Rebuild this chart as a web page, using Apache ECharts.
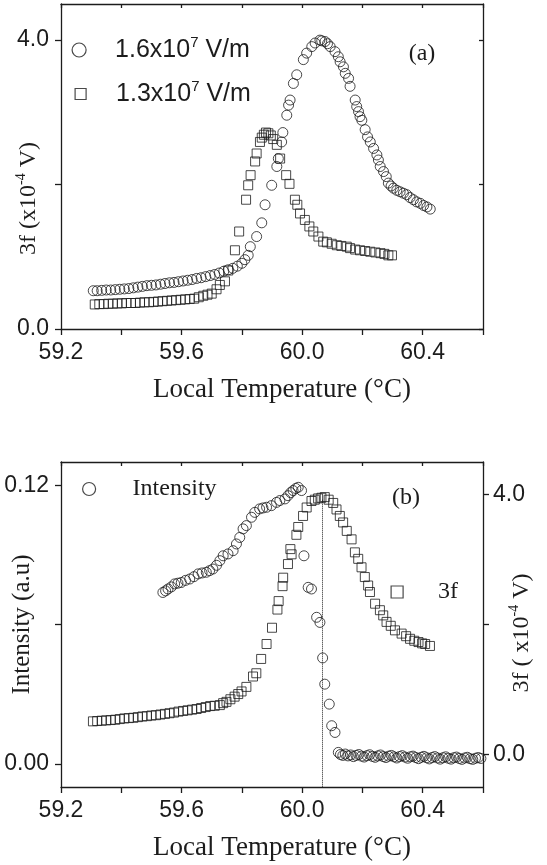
<!DOCTYPE html>
<html><head><meta charset="utf-8">
<script src="https://cdn.jsdelivr.net/npm/echarts@6/dist/echarts.min.js"></script>
<style>html,body{margin:0;padding:0;background:#fff}#c{width:547px;height:865px}</style>
</head><body><div id="c"></div>
<script>
// ---------- data ----------
const xTickValues = [59.2, 59.4, 59.6, 59.8, 60.0, 60.2, 60.4, 60.6];
const xLabelValues = [59.2, 59.6, 60.0, 60.4];
const aYTickValues = [0, 2, 4];
const aYLabelValues = [0, 4];
const bLeftTickValues = [0, 0.06, 0.12];
const bLeftLabelValues = [0, 0.12];
const bRightTickValues = [0, 2, 4];
const bRightLabelValues = [0, 4];

const seriesNamesA = ['1.6x10^7 V/m', '1.3x10^7 V/m'];
const seriesNamesB = ['Intensity', '3f'];

// panel (a): 3f signal, field 1.6x10^7 V/m  [T (°C), 3f (x10^-4 V)]
const field16 = [[59.307,0.53],[59.32,0.53],[59.335,0.535],[59.35,0.54],[59.365,0.54],[59.38,0.545],[59.395,0.55],[59.41,0.555],[59.425,0.56],[59.44,0.57],[59.455,0.58],[59.47,0.59],[59.485,0.60],[59.5,0.605],[59.515,0.61],[59.53,0.62],[59.545,0.63],[59.56,0.64],[59.575,0.645],[59.59,0.655],[59.605,0.665],[59.62,0.675],[59.635,0.685],[59.65,0.70],[59.665,0.71],[59.68,0.725],[59.695,0.74],[59.71,0.755],[59.725,0.775],[59.74,0.80],[59.755,0.82],[59.77,0.84],[59.785,0.87],[59.8,0.91],[59.81,0.96],[59.821,1.02],[59.828,1.14],[59.849,1.28],[59.866,1.47],[59.877,1.72],[59.899,1.99],[59.916,2.25],[59.921,2.36],[59.932,2.59],[59.936,2.72],[59.949,2.96],[59.955,3.10],[59.96,3.17],[59.971,3.40],[59.982,3.52],[60.004,3.73],[60.015,3.82],[60.032,3.91],[60.043,3.96],[60.059,4.00],[60.065,3.99],[60.076,3.98],[60.084,3.95],[60.093,3.91],[60.109,3.84],[60.12,3.77],[60.126,3.70],[60.137,3.63],[60.143,3.54],[60.154,3.47],[60.159,3.36],[60.176,3.17],[60.181,3.08],[60.187,3.01],[60.192,2.94],[60.198,2.89],[60.209,2.76],[60.217,2.66],[60.226,2.59],[60.237,2.50],[60.248,2.41],[60.253,2.34],[60.259,2.25],[60.27,2.18],[60.279,2.11],[60.286,2.02],[60.295,1.98],[60.303,1.95],[60.314,1.92],[60.325,1.90],[60.336,1.88],[60.347,1.86],[60.358,1.82],[60.369,1.79],[60.38,1.76],[60.392,1.74],[60.403,1.71],[60.414,1.69],[60.425,1.66]];

// panel (a): field 1.3x10^7 V/m
const field13 = [[59.312,0.34],[59.327,0.345],[59.342,0.345],[59.357,0.35],[59.372,0.35],[59.387,0.355],[59.402,0.355],[59.417,0.36],[59.432,0.36],[59.447,0.36],[59.462,0.365],[59.477,0.37],[59.492,0.37],[59.507,0.375],[59.522,0.38],[59.537,0.385],[59.552,0.39],[59.567,0.395],[59.582,0.40],[59.597,0.405],[59.612,0.41],[59.627,0.415],[59.642,0.42],[59.657,0.44],[59.672,0.46],[59.686,0.475],[59.70,0.49],[59.716,0.55],[59.727,0.61],[59.744,0.66],[59.755,0.81],[59.777,1.09],[59.791,1.35],[59.814,1.79],[59.821,1.99],[59.829,2.13],[59.844,2.32],[59.849,2.43],[59.86,2.59],[59.866,2.65],[59.873,2.69],[59.88,2.72],[59.888,2.71],[59.896,2.68],[59.904,2.63],[59.916,2.55],[59.927,2.36],[59.947,2.13],[59.958,2.01],[59.976,1.79],[59.984,1.72],[59.993,1.60],[60.009,1.51],[60.024,1.42],[60.037,1.35],[60.054,1.28],[60.07,1.21],[60.082,1.20],[60.098,1.18],[60.115,1.16],[60.13,1.15],[60.148,1.14],[60.159,1.12],[60.176,1.10],[60.192,1.09],[60.209,1.08],[60.226,1.07],[60.243,1.06],[60.26,1.05],[60.273,1.04],[60.286,1.02],[60.298,1.02]];

// panel (b): intensity (a.u)
const intensity = [[59.538,0.0738],[59.547,0.0745],[59.555,0.0753],[59.566,0.0762],[59.577,0.0775],[59.588,0.0778],[59.599,0.0781],[59.613,0.0790],[59.627,0.0796],[59.641,0.0806],[59.655,0.0818],[59.668,0.0822],[59.682,0.0825],[59.693,0.0832],[59.704,0.0839],[59.716,0.0855],[59.727,0.0875],[59.738,0.0896],[59.754,0.0904],[59.771,0.0918],[59.782,0.0947],[59.793,0.0975],[59.804,0.1012],[59.815,0.1026],[59.832,0.1062],[59.843,0.1083],[59.859,0.1098],[59.870,0.1102],[59.882,0.1105],[59.898,0.1112],[59.915,0.1126],[59.926,0.1134],[59.943,0.1141],[59.953,0.1155],[59.962,0.1168],[59.97,0.1177],[59.979,0.1186],[59.987,0.1191],[59.998,0.1177],[60.006,0.0896],[60.02,0.0760],[60.031,0.0753],[60.048,0.0631],[60.059,0.0609],[60.068,0.0456],[60.075,0.0343],[60.09,0.0257],[60.098,0.0164],[60.109,0.0135],[60.12,0.0049],[60.127,0.0040],[60.135,0.0036],[60.143,0.0042],[60.152,0.0034],[60.161,0.0038],[60.170,0.0031],[60.179,0.0036],[60.188,0.0040],[60.197,0.0033],[60.206,0.0029],[60.215,0.0035],[60.224,0.0039],[60.233,0.0032],[60.242,0.0028],[60.251,0.0034],[60.26,0.0038],[60.269,0.0031],[60.278,0.0027],[60.287,0.0033],[60.296,0.0036],[60.305,0.0030],[60.314,0.0025],[60.323,0.0031],[60.332,0.0035],[60.341,0.0029],[60.35,0.0024],[60.359,0.0030],[60.368,0.0033],[60.377,0.0027],[60.386,0.0022],[60.395,0.0028],[60.404,0.0032],[60.413,0.0026],[60.422,0.0021],[60.431,0.0027],[60.44,0.0031],[60.449,0.0025],[60.458,0.0020],[60.467,0.0026],[60.476,0.0030],[60.485,0.0024],[60.494,0.0020],[60.503,0.0026],[60.512,0.0029],[60.521,0.0023],[60.53,0.0019],[60.539,0.0025],[60.548,0.0028],[60.557,0.0022],[60.566,0.0019],[60.575,0.0024],[60.584,0.0027],[60.593,0.0023]];

// panel (b): 3f (x10^-4 V)
const thirdHarm = [[59.306,0.51],[59.32,0.515],[59.335,0.52],[59.35,0.525],[59.365,0.53],[59.38,0.535],[59.395,0.545],[59.41,0.555],[59.425,0.56],[59.44,0.565],[59.455,0.575],[59.47,0.585],[59.485,0.59],[59.5,0.60],[59.515,0.605],[59.53,0.615],[59.545,0.625],[59.56,0.635],[59.575,0.645],[59.59,0.66],[59.605,0.67],[59.62,0.68],[59.635,0.69],[59.65,0.70],[59.665,0.715],[59.68,0.73],[59.695,0.745],[59.71,0.75],[59.727,0.76],[59.738,0.79],[59.749,0.81],[59.762,0.85],[59.776,0.89],[59.788,0.93],[59.799,0.97],[59.815,1.04],[59.837,1.20],[59.848,1.25],[59.864,1.47],[59.882,1.70],[59.9,1.95],[59.918,2.23],[59.922,2.36],[59.935,2.59],[59.937,2.72],[59.953,2.93],[59.961,3.16],[59.965,3.08],[59.981,3.38],[59.987,3.50],[60.003,3.67],[60.015,3.80],[60.031,3.90],[60.042,3.92],[60.053,3.94],[60.064,3.95],[60.075,3.96],[60.088,3.92],[60.103,3.87],[60.114,3.77],[60.125,3.67],[60.136,3.57],[60.148,3.44],[60.164,3.31],[60.175,3.11],[60.186,3.01],[60.197,2.88],[60.208,2.73],[60.219,2.60],[60.225,2.50],[60.242,2.32],[60.258,2.22],[60.269,2.14],[60.28,2.04],[60.294,1.98],[60.308,1.91],[60.33,1.86],[60.345,1.82],[60.358,1.78],[60.372,1.75],[60.386,1.73],[60.398,1.71],[60.408,1.70],[60.424,1.67]];

// dotted marker line in panel (b): temperature, and 3f extent
const peakLineT = [60.067];
const peakLineV = [3.92, -0.5];

// ---------- style ----------
const INK = '#1c1c1c';
const SANS = '"Liberation Sans", Arial, sans-serif';
const SERIF = '"Liberation Serif", "Times New Roman", serif';
const lineStyle = {color: INK, width: 1.3};
const supRich = (size) => ({
  t: {fontFamily: SERIF, fontSize: size, color: INK, lineHeight: size + 6},
  s: {fontFamily: SERIF, fontSize: Math.round(size * 0.6), color: INK, verticalAlign: 'top', lineHeight: Math.round(size * 0.6)}
});

function xAx(grid, pos, withLabels) {
  const ax = {
    type: 'value', gridIndex: grid, position: pos, min: 59.2, max: 60.6,
    axisLine: {show: true, onZero: false, lineStyle},
    axisTick: {show: true, inside: pos === 'top', length: pos === 'top' ? 4 : 6, customValues: xTickValues, lineStyle},
    axisLabel: {show: withLabels, customValues: xLabelValues, formatter: v => v.toFixed(1),
      fontFamily: SANS, fontSize: 23, color: INK, margin: 12},
    splitLine: {show: false}
  };
  if (withLabels) {
    ax.name = 'Local Temperature (°C)';
    ax.nameLocation = 'middle';
    ax.nameGap = 47;
    ax.nameMoveOverlap = false;
    ax.nameTextStyle = {fontFamily: SERIF, fontSize: 27, color: INK, padding: [0, 0, 0, 20]};
  }
  return ax;
}

const option = {
  backgroundColor: '#fff',
  animation: false,
  grid: [
    {left: 61, top: 4, width: 422, height: 325, containLabel: false, outerBoundsMode: 'none'},
    {left: 61, top: 462, width: 422, height: 325, containLabel: false, outerBoundsMode: 'none'}
  ],
  xAxis: [
    xAx(0, 'bottom', true),
    xAx(0, 'top', false),
    xAx(1, 'bottom', true),
    xAx(1, 'top', false)
  ],
  yAxis: [
    {type: 'value', gridIndex: 0, position: 'left', min: 0, max: 4.5,
      axisLine: {show: true, onZero: false, lineStyle},
      axisTick: {show: true, length: 6, customValues: aYTickValues, lineStyle},
      axisLabel: {customValues: aYLabelValues, formatter: v => v.toFixed(1), fontFamily: SANS, fontSize: 23, color: INK, margin: 12},
      splitLine: {show: false},
      name: '{t|3f (x10}{s|-4}{t| V)}', nameLocation: 'middle', nameGap: 17, nameMoveOverlap: false,
      nameTextStyle: {rich: supRich(24), padding: [0, 64, 0, 0]}},
    {type: 'value', gridIndex: 0, position: 'right', min: 0, max: 4.5,
      axisLine: {show: true, onZero: false, lineStyle},
      axisTick: {show: true, inside: true, length: 4, customValues: aYTickValues, lineStyle},
      axisLabel: {show: false}, splitLine: {show: false}},
    {type: 'value', gridIndex: 1, position: 'left', min: -0.01, max: 0.13,
      axisLine: {show: true, onZero: false, lineStyle},
      axisTick: {show: true, length: 6, customValues: bLeftTickValues, lineStyle},
      axisLabel: {customValues: bLeftLabelValues, formatter: v => v.toFixed(2), fontFamily: SANS, fontSize: 23, color: INK, margin: 12},
      splitLine: {show: false},
      name: 'Intensity (a.u)', nameLocation: 'middle', nameGap: 26, nameMoveOverlap: false,
      nameTextStyle: {fontFamily: SERIF, fontSize: 25, color: INK}},
    {type: 'value', gridIndex: 1, position: 'right', min: -0.5, max: 4.5,
      axisLine: {show: true, onZero: false, lineStyle},
      axisTick: {show: true, length: 6, customValues: bRightTickValues, lineStyle},
      axisLabel: {customValues: bRightLabelValues, formatter: v => v.toFixed(1), fontFamily: SANS, fontSize: 23, color: INK, margin: 10},
      splitLine: {show: false},
      name: '{t|3f ( x10}{s|-4}{t| V)}', nameLocation: 'middle', nameGap: 24, nameMoveOverlap: false,
      nameTextStyle: {rich: supRich(24), padding: [0, 17, 0, 0]}}
  ],
  legend: [
    {data: [{name: seriesNamesA[0], icon: 'circle'}], left: 71.5, top: 35, padding: 0, itemWidth: 14, itemHeight: 14, selectedMode: false,
      formatter: () => '{t|1.6x10}{s|7}{t| V/m}',
      itemStyle: {color: 'rgba(0,0,0,0)', borderColor: INK, borderWidth: 1.2},
      textStyle: {padding: [0, 0, 0, 24], rich: {t: {fontFamily: SANS, fontSize: 25, color: INK, lineHeight: 30}, s: {fontFamily: SANS, fontSize: 15, color: INK, verticalAlign: 'top', lineHeight: 15}}}},
    {data: [{name: seriesNamesA[1], icon: 'rect'}], left: 74.5, top: 79, padding: 0, itemWidth: 11, itemHeight: 11, selectedMode: false,
      formatter: () => '{t|1.3x10}{s|7}{t| V/m}',
      itemStyle: {color: 'rgba(0,0,0,0)', borderColor: INK, borderWidth: 1.2},
      textStyle: {padding: [0, 0, 0, 25], rich: {t: {fontFamily: SANS, fontSize: 25, color: INK, lineHeight: 30}, s: {fontFamily: SANS, fontSize: 15, color: INK, verticalAlign: 'top', lineHeight: 15}}}},
    {data: [{name: seriesNamesB[0], icon: 'circle'}], left: 82, top: 475, padding: 0, itemWidth: 13, itemHeight: 13, selectedMode: false,
      itemStyle: {color: 'rgba(0,0,0,0)', borderColor: INK, borderWidth: 1.2},
      textStyle: {padding: [0, 0, 0, 32], fontFamily: SERIF, fontSize: 24, color: INK, lineHeight: 28}},
    {data: [{name: seriesNamesB[1], icon: 'rect'}], left: 390.5, top: 578, padding: 0, itemWidth: 12, itemHeight: 12, selectedMode: false,
      itemStyle: {color: 'rgba(0,0,0,0)', borderColor: INK, borderWidth: 1.2},
      textStyle: {padding: [0, 0, 0, 30], fontFamily: SERIF, fontSize: 24, color: INK, lineHeight: 28}}
  ],
  graphic: [
    {type: 'text', x: 422, y: 54, style: {text: '(a)', font: '24px "Liberation Serif", serif', fill: INK, align: 'center', verticalAlign: 'middle'}},
    {type: 'text', x: 406, y: 498, style: {text: '(b)', font: '24px "Liberation Serif", serif', fill: INK, align: 'center', verticalAlign: 'middle'}}
  ],
  series: [
    {name: seriesNamesA[0], type: 'scatter', xAxisIndex: 0, yAxisIndex: 0, symbol: 'circle', symbolSize: 10,
      itemStyle: {color: 'rgba(0,0,0,0)', borderColor: INK, borderWidth: 1}, data: field16},
    {name: seriesNamesA[1], type: 'scatter', xAxisIndex: 0, yAxisIndex: 0, symbol: 'rect', symbolSize: 9,
      itemStyle: {color: 'rgba(0,0,0,0)', borderColor: INK, borderWidth: 1}, data: field13},
    {name: seriesNamesB[0], type: 'scatter', xAxisIndex: 2, yAxisIndex: 2, symbol: 'circle', symbolSize: 10,
      itemStyle: {color: 'rgba(0,0,0,0)', borderColor: INK, borderWidth: 1}, data: intensity},
    {name: seriesNamesB[1], type: 'scatter', xAxisIndex: 2, yAxisIndex: 3, symbol: 'rect', symbolSize: 9,
      itemStyle: {color: 'rgba(0,0,0,0)', borderColor: INK, borderWidth: 1}, data: thirdHarm,
      markLine: {silent: true, symbol: ['none', 'none'], label: {show: false},
        lineStyle: {type: 'dotted', color: INK, width: 1},
        data: [[{coord: [peakLineT[0], peakLineV[0]]}, {coord: [peakLineT[0], peakLineV[1]]}]]}}
  ]
};
const chart = echarts.init(document.getElementById('c'), null, {renderer: 'canvas'});
chart.setOption(option);
</script></body></html>
